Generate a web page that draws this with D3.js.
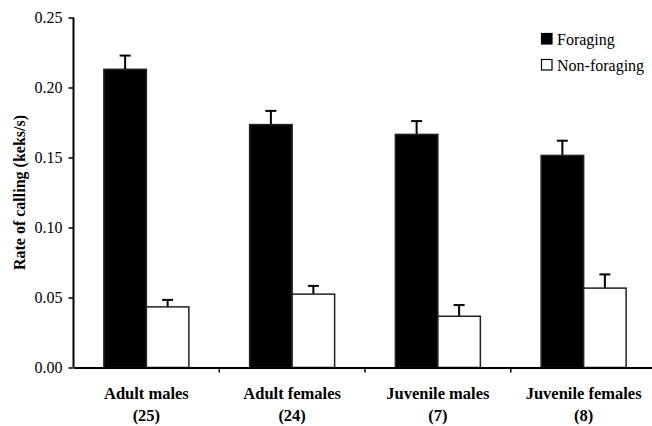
<!DOCTYPE html>
<html>
<head>
<meta charset="utf-8">
<script src="https://cdn.jsdelivr.net/npm/d3@7"></script>
<style>
  @font-face { font-family: "ChartSerif"; src: local("Liberation Serif"), local("LiberationSerif"); font-weight: normal; }
  @font-face { font-family: "ChartSerif"; src: local("Liberation Serif Bold"), local("LiberationSerif-Bold"); font-weight: bold; }
  html, body { margin: 0; padding: 0; background: #fff; }
  svg { display: block; font-family: "Liberation Serif"; }
</style>
</head>
<body>
<svg id="chart" width="652" height="426"></svg>
<script>
const categories = ["Adult males", "Adult females", "Juvenile males", "Juvenile females"];
const sampleSizes = ["(25)", "(24)", "(7)", "(8)"];
const seriesNames = ["Foraging", "Non-foraging"];
const foraging = [0.213, 0.1735, 0.1665, 0.1515];
const foragingErr = [0.0098, 0.0098, 0.0095, 0.0105];
const nonForaging = [0.0433, 0.0524, 0.0366, 0.0567];
const nonForagingErr = [0.0050, 0.0059, 0.0080, 0.0098];
const yTicks = [0, 0.05, 0.10, 0.15, 0.20, 0.25];
const seriesFill = ["#000000", "#ffffff"];

const svg = d3.select("#chart");
const margin = { left: 73.5, top: 17.5 };
const plotW = 583, plotH = 350;
const g = svg.append("g").attr("transform", `translate(${margin.left},${margin.top})`);

const y = d3.scaleLinear().domain([0, 0.25]).range([plotH, 0]);
const x0 = d3.scaleBand().domain(categories).range([0, plotW]).padding(0);
const x1 = d3.scaleBand().domain(seriesNames).range([0, x0.bandwidth()]).paddingInner(0).paddingOuter(0.715);

const rows = categories.map((c, i) => ({
  cat: c,
  vals: [
    { s: seriesNames[0], v: foraging[i], e: foragingErr[i] },
    { s: seriesNames[1], v: nonForaging[i], e: nonForagingErr[i] }
  ]
}));

const groups = g.selectAll("g.grp").data(rows).join("g")
  .attr("class", "grp")
  .attr("transform", d => `translate(${x0(d.cat)},0)`);

groups.selectAll("g.err").data(d => d.vals).join("g").attr("class", "err").each(function(d) {
  const cx = x1(d.s) + x1.bandwidth() / 2;
  const sel = d3.select(this);
  sel.append("line").attr("x1", cx).attr("x2", cx)
    .attr("y1", y(d.v)).attr("y2", y(d.v + d.e))
    .attr("stroke", "#000").attr("stroke-width", 2);
  sel.append("line").attr("x1", cx - 5.5).attr("x2", cx + 5.5)
    .attr("y1", y(d.v + d.e)).attr("y2", y(d.v + d.e))
    .attr("stroke", "#000").attr("stroke-width", 2);
});

groups.selectAll("rect").data(d => d.vals).join("rect")
  .attr("x", d => x1(d.s))
  .attr("width", x1.bandwidth())
  .attr("y", d => y(d.v))
  .attr("height", d => plotH - y(d.v))
  .attr("fill", (d, i) => seriesFill[i])
  .attr("stroke", "#222")
  .attr("stroke-width", 1.5);

// y axis
const yAxis = g.append("g").call(
  d3.axisLeft(y).tickValues(yTicks).tickFormat(d3.format(".2f")).tickSize(5).tickPadding(6)
);
yAxis.attr("font-family", null).attr("font-size", null);
yAxis.select(".domain").attr("stroke", "#000").attr("stroke-width", 2).attr("d", `M0,${plotH}V0`);
yAxis.selectAll(".tick line").attr("stroke", "#000").attr("stroke-width", 1.5);
yAxis.selectAll(".tick text")
  .attr("font-family", "Liberation Serif")
  .attr("font-size", 16).attr("fill", "#000");

// x axis
const xAxis = g.append("g").attr("transform", `translate(0,${plotH})`).call(
  d3.axisBottom(x0).tickValues([]).tickSizeOuter(0)
);
xAxis.attr("font-family", null).attr("font-size", null);
xAxis.select(".domain").attr("stroke", "#000").attr("stroke-width", 2);
const bounds = categories.map(c => x0(c)).slice(1);
xAxis.selectAll("line.bt").data(bounds).join("line").attr("class", "bt")
  .attr("x1", d => d).attr("x2", d => d).attr("y1", 0).attr("y2", 5)
  .attr("stroke", "#000").attr("stroke-width", 1.5);

// category labels (two lines each)
const labG = g.append("g");
categories.forEach((c, i) => {
  const cx = x0(c) + x0.bandwidth() / 2;
  labG.append("text").attr("x", cx).attr("y", plotH + 31.5)
    .attr("text-anchor", "middle").attr("font-family", "Liberation Serif")
    .attr("font-weight", "bold").attr("font-size", 16.5).attr("fill", "#000").text(c);
  labG.append("text").attr("x", cx).attr("y", plotH + 53)
    .attr("text-anchor", "middle").attr("font-family", "Liberation Serif")
    .attr("font-weight", "bold").attr("font-size", 16.5).attr("fill", "#000").text(sampleSizes[i]);
});

// y title
svg.append("text")
  .attr("transform", `translate(25,${margin.top + plotH / 2}) rotate(-90)`)
  .attr("text-anchor", "middle")
  .attr("font-family", "Liberation Serif")
  .attr("font-weight", "bold").attr("font-size", 16).attr("fill", "#000")
  .text("Rate of calling (keks/s)");

// legend
const leg = svg.append("g").attr("transform", "translate(541,33)");
seriesNames.forEach((s, i) => {
  const row = leg.append("g").attr("transform", `translate(0,${i * 26})`);
  row.append("rect").attr("x", 0.5).attr("y", 0.5).attr("width", 10.5).attr("height", 10.5)
    .attr("fill", seriesFill[i]).attr("stroke", "#000").attr("stroke-width", 1.2);
  row.append("text").attr("x", 16).attr("y", 11.5)
    .attr("font-family", "Liberation Serif")
    .attr("font-size", 16).attr("fill", "#000").text(s);
});
</script>
</body>
</html>
